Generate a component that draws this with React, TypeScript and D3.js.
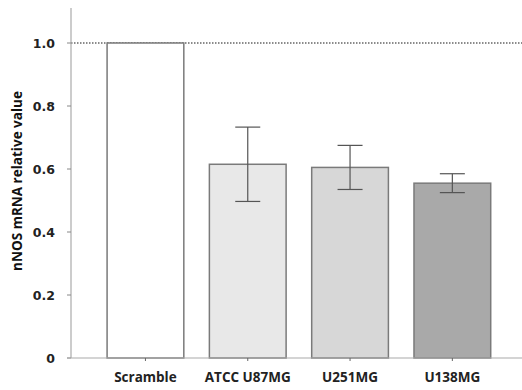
import React, { useEffect, useRef } from "react";
import * as d3 from "d3";

const categories = ["Scramble", "ATCC U87MG", "U251MG", "U138MG"];
const values = [1.0, 0.615, 0.605, 0.555];
const errors = [0, 0.118, 0.07, 0.03];
const fills = ["#ffffff", "#e8e8e8", "#d7d7d7", "#a9a9a9"];
const yTicks = [0, 0.2, 0.4, 0.6, 0.8, 1.0];

const App = () => {
  const ref = useRef<SVGSVGElement>(null);

  useEffect(() => {
    const svg = d3.select(ref.current);
    svg.selectAll("*").remove();

    const width = 522;
    const left = 71;
    const zeroY = 358;

    const y = d3.scaleLinear().domain([0, 1]).range([zeroY, 43]);
    const x = d3
      .scaleBand()
      .domain(categories)
      .range([94.3, 503.5])
      .paddingInner(0.25)
      .paddingOuter(0.125);

    const g = svg.append("g");

    // dotted reference line at 1.0
    g.append("line")
      .attr("x1", left)
      .attr("x2", width)
      .attr("y1", y(1))
      .attr("y2", y(1))
      .attr("stroke", "#666")
      .attr("stroke-width", 1.5)
      .attr("stroke-dasharray", "1.5,1.5");

    // bars
    g.selectAll("rect.bar")
      .data(categories)
      .join("rect")
      .attr("class", "bar")
      .attr("x", (d) => x(d)!)
      .attr("width", x.bandwidth())
      .attr("y", (d, i) => y(values[i]))
      .attr("height", (d, i) => zeroY - y(values[i]))
      .attr("fill", (d, i) => fills[i])
      .attr("stroke", "#7a7a7a")
      .attr("stroke-width", 1.5);

    // error bars
    const cap = 12.5;
    categories.forEach((c, i) => {
      if (!errors[i]) return;
      const cx = x(c)! + x.bandwidth() / 2;
      const hi = y(values[i] + errors[i]);
      const lo = y(values[i] - errors[i]);
      const eg = g.append("g").attr("stroke", "#555").attr("stroke-width", 1.2);
      eg.append("line").attr("x1", cx).attr("x2", cx).attr("y1", hi).attr("y2", lo);
      eg.append("line").attr("x1", cx - cap).attr("x2", cx + cap).attr("y1", hi).attr("y2", hi);
      eg.append("line").attr("x1", cx - cap).attr("x2", cx + cap).attr("y1", lo).attr("y2", lo);
    });

    // y axis
    g.append("line")
      .attr("x1", left)
      .attr("x2", left)
      .attr("y1", 8)
      .attr("y2", zeroY)
      .attr("stroke", "#aaa")
      .attr("stroke-width", 1.2);
    g.selectAll("line.ytick")
      .data(yTicks)
      .join("line")
      .attr("class", "ytick")
      .attr("x1", left - 4)
      .attr("x2", left)
      .attr("y1", (d) => y(d))
      .attr("y2", (d) => y(d))
      .attr("stroke", "#888");
    g.selectAll("text.ylab")
      .data(yTicks)
      .join("text")
      .attr("class", "ylab")
      .attr("x", 55)
      .attr("y", (d) => y(d))
      .attr("dy", "0.36em")
      .attr("text-anchor", "end")
      .style("font-family", "'DejaVu Sans', sans-serif")
      .style("font-weight", "bold")
      .style("font-size", "12.5px")
      .style("fill", "#222")
      .text((d) => (d === 0 ? "0" : d3.format(".1f")(d)));

    // x axis
    g.append("line")
      .attr("x1", left - 4)
      .attr("x2", width)
      .attr("y1", zeroY)
      .attr("y2", zeroY)
      .attr("stroke", "#aaa")
      .attr("stroke-width", 1.2);
    g.selectAll("line.xtick")
      .data(categories)
      .join("line")
      .attr("class", "xtick")
      .attr("x1", (d) => x(d)! + x.bandwidth() / 2)
      .attr("x2", (d) => x(d)! + x.bandwidth() / 2)
      .attr("y1", zeroY)
      .attr("y2", zeroY + 3)
      .attr("stroke", "#666");
    g.selectAll("text.xlab")
      .data(categories)
      .join("text")
      .attr("class", "xlab")
      .attr("x", (d) => x(d)! + x.bandwidth() / 2)
      .attr("y", 382)
      .attr("text-anchor", "middle")
      .style("font-family", "'Open Sans', sans-serif")
      .style("font-weight", "bold")
      .style("font-size", "13.5px")
      .style("fill", "#222")
      .text((d) => d);

    // y axis title
    g.append("text")
      .attr("transform", "translate(22,181) rotate(-90)")
      .attr("text-anchor", "middle")
      .style("font-family", "'Open Sans', sans-serif")
      .style("font-weight", "bold")
      .style("font-size", "13.5px")
      .style("fill", "#111")
      .text("nNOS mRNA relative value");
  }, []);

  return (
    <svg
      ref={ref}
      width={522}
      height={390}
      style={{ position: "absolute", left: 0, top: 0, background: "#fff" }}
    />
  );
};

export default App;
